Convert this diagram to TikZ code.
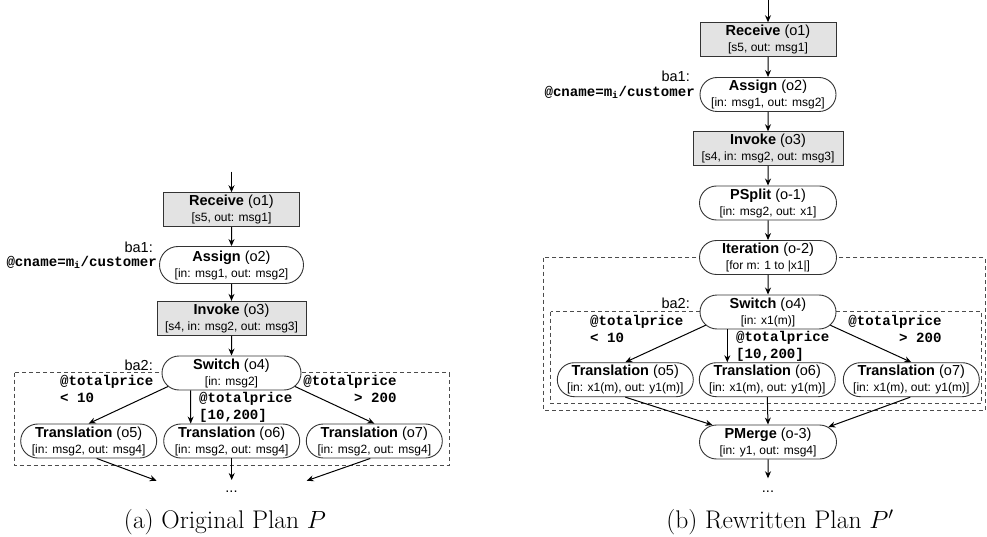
\documentclass[tikz,border=0pt]{standalone}
\usepackage{fontspec}
\newfontfamily\lsans{Liberation Sans}
\newfontfamily\lmono{Liberation Mono}
\usetikzlibrary{arrows.meta, shapes.misc, positioning}
\newcommand\oplabel[3]{\textbf{#1} (#2)\\{\fontsize{12}{14}\selectfont[#3]}}

\begin{document}
\begin{tikzpicture}[x=1pt, y=-1pt, >={Stealth[length=7pt,width=6pt]},
  every node/.style={font=\lsans\fontsize{14.5}{16}\selectfont},
  op/.style={draw=black!80, line width=0.9pt, minimum height=34pt, inner sep=0pt, align=center},
  svc/.style={op, rectangle, fill=black!11},
  act/.style={op, rounded rectangle, fill=white},
  cond/.style={font=\lmono\bfseries\fontsize{14.1}{16.7}\selectfont, inner sep=0pt},
  note/.style={inner sep=0pt, anchor=base east},
  grp/.style={draw=black!70, line width=0.8pt, dash pattern=on 4pt off 3pt},
  flow/.style={->, line width=1pt}]
\useasboundingbox (0,0) rectangle (987,537);

% blocks
\draw[grp] (14,372.7) rectangle (449.3,465);
\draw[grp] (543.3,257.7) rectangle (985.5,410);
\draw[grp] (550.7,311.7) rectangle (981.7,403.3);

% (a) original plan
\coordinate (inA) at (231.5,171.7);
\node[svc, minimum width=136pt] (rcvA) at (231.5,209.7) {\oplabel{Receive}{o1}{s5, out: msg1}};
\node[act, minimum width=144pt, minimum height=37pt] (asgA) at (231.5,265) {\oplabel{Assign}{o2}{in: msg1, out: msg2}};
\node[svc, minimum width=149pt] (invA) at (231.5,318.3) {\oplabel{Invoke}{o3}{s4, in: msg2, out: msg3}};
\node[act, minimum width=139pt] (swA) at (231.5,373) {\oplabel{Switch}{o4}{in: msg2}};
\node[act, minimum width=136pt] (trA5) at (88.7,441) {\oplabel{Translation}{o5}{in: msg2, out: msg4}};
\node[act, minimum width=136pt] (trA6) at (231.7,441) {\oplabel{Translation}{o6}{in: msg2, out: msg4}};
\node[act, minimum width=136pt] (trA7) at (374.3,441) {\oplabel{Translation}{o7}{in: msg2, out: msg4}};

\node[note] (baA1) at (153,252) {ba1:};
\node[note, cond] (cnA) at (157,266.3) {@cname=m\textsubscript{i}/customer};
\node[note] (baA2) at (153,370.2) {ba2:};
\node[cond, anchor=base west, align=left] (ltA) at (60,402) {@totalprice\\< 10};
\node[cond, anchor=base west, align=left] (mdA) at (199,419) {@totalprice\\{[10,200]}};
\node[cond, anchor=base east, align=right] (gtA) at (396.7,402) {@totalprice\\> 200};

\coordinate (outA5) at (156.7,480.7);
\coordinate (outA6) at (231.7,480);
\coordinate (outA7) at (306.7,480.7);
\node[anchor=base] (dotsA) at (231.5,492) {...};

\draw[flow] (inA) -- (rcvA);
\draw[flow] (rcvA) -- (asgA);
\draw[flow] (asgA) -- (invA);
\draw[flow] (invA) -- (swA);
\draw[flow] (swA.192) -- (trA5.north);
\draw[flow] ([xshift=-41pt]swA.south) -- ([xshift=-41pt]trA6.north);
\draw[flow] (swA.348) -- (trA7.north);
\draw[flow] ([xshift=8pt]trA5.south) -- (outA5);
\draw[flow] (trA6.south) -- (outA6);
\draw[flow] ([xshift=-4pt]trA7.south) -- (outA7);

\node[anchor=base, font=\rmfamily\fontsize{25.5}{30}\selectfont] (capA) at (225,528.3) {(a)~Original Plan $P$};

% (b) rewritten plan
\coordinate (inB) at (768,0);
\node[svc, minimum width=136pt] (rcvB) at (768,39.7) {\oplabel{Receive}{o1}{s5, out: msg1}};
\node[act, minimum width=136pt] (asgB) at (768,94.5) {\oplabel{Assign}{o2}{in: msg1, out: msg2}};
\node[svc, minimum width=150pt] (invB) at (768,148.7) {\oplabel{Invoke}{o3}{s4, in: msg2, out: msg3}};
\node[act, minimum width=137pt] (spB) at (768,203) {\oplabel{PSplit}{o-1}{in: msg2, out: x1}};
\node[act, minimum width=137pt] (itB) at (768,257.5) {\oplabel{Iteration}{o-2}{for m: 1 to |x1|}};
\node[act, minimum width=136pt] (swB) at (768,312) {\oplabel{Switch}{o4}{in: x1(m)}};
\node[act, minimum width=136pt] (trB5) at (625.3,379.7) {\oplabel{Translation}{o5}{in: x1(m), out: y1(m)}};
\node[act, minimum width=136pt] (trB6) at (767.3,379.7) {\oplabel{Translation}{o6}{in: x1(m), out: y1(m)}};
\node[act, minimum width=136pt] (trB7) at (911.3,379.7) {\oplabel{Translation}{o7}{in: x1(m), out: y1(m)}};
\node[act, minimum width=137pt] (pmB) at (768,442) {\oplabel{PMerge}{o-3}{in: y1, out: msg4}};

\node[note] (baB1) at (690,81.2) {ba1:};
\node[note, cond] (cnB) at (695,96.3) {@cname=m\textsubscript{i}/customer};
\node[note] (baB2) at (690,308.5) {ba2:};
\node[cond, anchor=base west, align=left] (ltB) at (590,342) {@totalprice\\< 10};
\node[cond, anchor=base west, align=left] (mdB) at (736,358) {@totalprice\\{[10,200]}};
\node[cond, anchor=base east, align=right] (gtB) at (941.7,342) {@totalprice\\> 200};

\coordinate (outB) at (768,478.3);
\node[anchor=base] (dotsB) at (768,492.7) {...};

\draw[flow] (inB) -- (rcvB);
\draw[flow] (rcvB) -- (asgB);
\draw[flow] (asgB) -- (invB);
\draw[flow] (invB) -- (spB);
\draw[flow] (spB) -- (itB);
\draw[flow] (itB) -- (swB);
\draw[flow] (swB.192) -- (trB5.north);
\draw[flow] ([xshift=-40.7pt]swB.south) -- ([xshift=-40pt]trB6.north);
\draw[flow] (swB.348) -- (trB7.north);
\draw[flow] (trB5.south) -- (pmB.163);
\draw[flow] (trB6.south) -- (pmB.north);
\draw[flow] ([xshift=-1pt]trB7.south) -- (pmB.14);
\draw[flow] (pmB) -- (outB);

\node[anchor=base, font=\rmfamily\fontsize{25.5}{30}\selectfont] (capB) at (780,528.3) {(b)~Rewritten Plan $P'$};
\end{tikzpicture}
\end{document}
